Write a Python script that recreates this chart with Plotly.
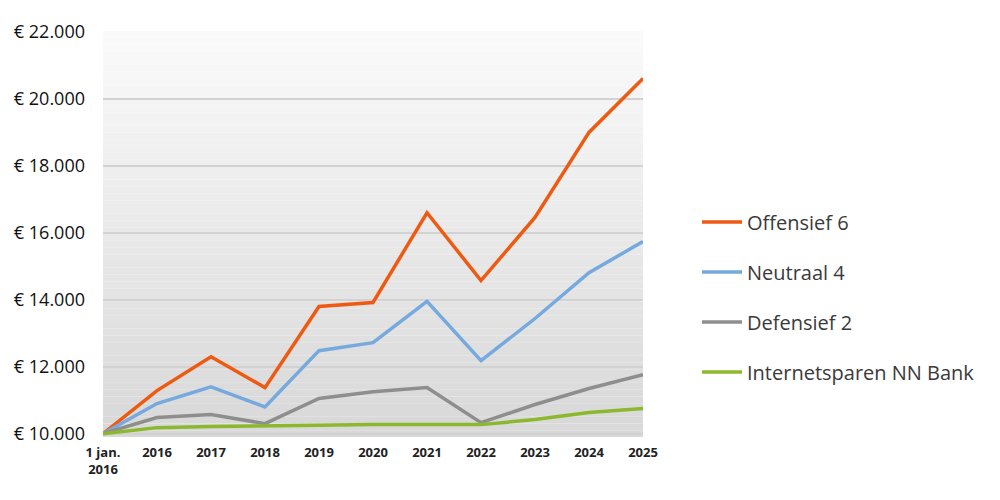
import plotly.graph_objects as go

categories = ["1 jan.<br>2016", "2016", "2017", "2018", "2019", "2020", "2021", "2022", "2023", "2024", "2025"]
offensief = [10000, 11285, 12300, 11375, 13800, 13920, 16600, 14575, 16460, 19000, 20610]
neutraal = [10000, 10900, 11400, 10800, 12480, 12720, 13950, 12180, 13440, 14810, 15740]
defensief = [10000, 10480, 10570, 10300, 11050, 11250, 11375, 10330, 10870, 11350, 11760]
sparen = [10000, 10180, 10210, 10240, 10250, 10270, 10270, 10270, 10420, 10630, 10750]
tick_vals = [10000, 12000, 14000, 16000, 18000, 20000, 22000]
tick_text = ["€ 10.000", "€ 12.000", "€ 14.000", "€ 16.000", "€ 18.000", "€ 20.000", "€ 22.000"]

series = [
    ("Offensief 6", offensief, "#ef5a12"),
    ("Neutraal 4", neutraal, "#76a9dd"),
    ("Defensief 2", defensief, "#8e8e8e"),
    ("Internetsparen NN Bank", sparen, "#8cb82e"),
]

fig = go.Figure()
for name, vals, color in series:
    fig.add_trace(go.Scatter(
        x=categories, y=vals, name=name, mode="lines", legendgroup=name,
        line=dict(color=color, width=3.5),
    ))

# gradient background strips
n = 60
shapes = []
for i in range(n):
    t = i / (n - 1)
    c = int(round(250 - (250 - 216) * t))
    shapes.append(dict(
        type="rect", xref="x domain", yref="y domain",
        x0=0, x1=1, y0=1 - (i + 1) / n, y1=1 - i / n,
        fillcolor=f"rgb({c},{c},{c})", line=dict(width=0), layer="below",
    ))

fig.update_layout(
    width=1000, height=500,
    margin=dict(l=103, r=357, t=31, b=63),
    paper_bgcolor="white", plot_bgcolor="rgba(0,0,0,0)",
    shapes=shapes,
    font=dict(family="Open Sans", color="#222"),
    showlegend=True,
    legend=dict(
        x=1.1, xanchor="left", y=0.345, yanchor="middle",
        font=dict(size=20, color="#3a3a3a"),
        tracegroupgap=21, traceorder="grouped", itemwidth=40,
        bgcolor="rgba(0,0,0,0)",
    ),
    xaxis=dict(
        type="category", showgrid=False, zeroline=False, showline=False,
        range=[0, 10], tickfont=dict(size=13, color="#222", family="Open Sans", weight="bold"),
        ticks="", ticklen=0, ticklabelstandoff=6,
    ),
    yaxis=dict(
        range=[9900, 22030], tickvals=tick_vals, ticktext=tick_text,
        showgrid=True, gridcolor="#d2d2d2", gridwidth=1.5, zeroline=False,
        showline=False, tickfont=dict(size=18, color="#111"), ticks="",
        ticklabelstandoff=17,
    ),
)
fig.update_xaxes(tickangle=0)
fig.write_html("out.html")
